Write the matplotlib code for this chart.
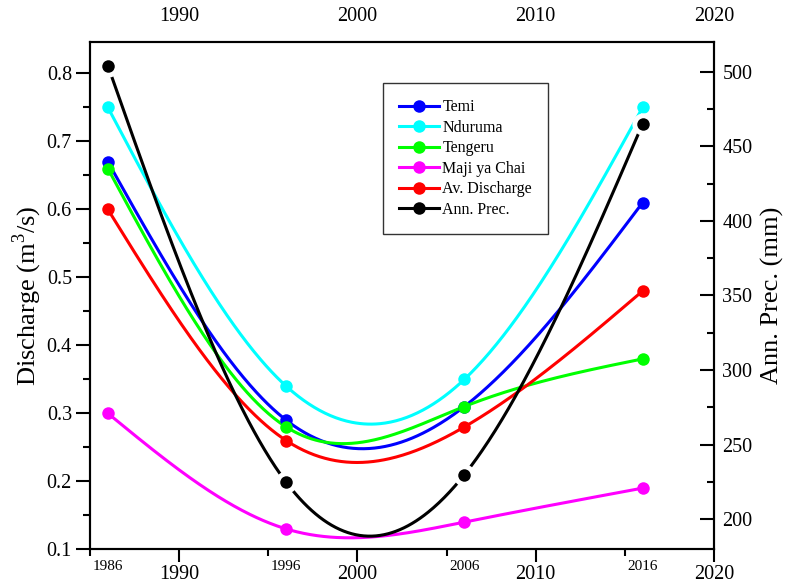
import numpy as np
import matplotlib
matplotlib.use("Agg")
import matplotlib.pyplot as plt
from matplotlib.ticker import MultipleLocator, FixedLocator
from matplotlib.lines import Line2D

years = [1986, 1996, 2006, 2016]
temi = [0.67, 0.29, 0.31, 0.61]
nduruma = [0.75, 0.34, 0.35, 0.75]
tengeru = [0.66, 0.28, 0.31, 0.38]
maji_ya_chai = [0.30, 0.13, 0.14, 0.19]
av_discharge = [0.60, 0.26, 0.28, 0.48]
ann_prec = [504, 225, 230, 465]

series_names = ["Temi", "Nduruma", "Tengeru", "Maji ya Chai", "Av. Discharge"]
series_colors = ["#0000ff", "#00ffff", "#00ff00", "#ff00ff", "#ff0000"]


def natural_spline(x, y, xs):
    x = np.asarray(x, float)
    y = np.asarray(y, float)
    n = len(x)
    h = np.diff(x)
    A = np.zeros((n, n))
    b = np.zeros(n)
    A[0, 0] = 1
    A[-1, -1] = 1
    for i in range(1, n - 1):
        A[i, i - 1] = h[i - 1]
        A[i, i] = 2 * (h[i - 1] + h[i])
        A[i, i + 1] = h[i]
        b[i] = 6 * ((y[i + 1] - y[i]) / h[i] - (y[i] - y[i - 1]) / h[i - 1])
    M = np.linalg.solve(A, b)
    xs = np.asarray(xs, float)
    idx = np.clip(np.searchsorted(x, xs) - 1, 0, n - 2)
    x0, x1 = x[idx], x[idx + 1]
    hh = x1 - x0
    t0 = x1 - xs
    t1 = xs - x0
    return (M[idx] * t0 ** 3 / (6 * hh) + M[idx + 1] * t1 ** 3 / (6 * hh)
            + (y[idx] / hh - M[idx] * hh / 6) * t0
            + (y[idx + 1] / hh - M[idx + 1] * hh / 6) * t1)


plt.rcParams['font.family'] = ['Liberation Serif', 'DejaVu Serif']
plt.rcParams['mathtext.fontset'] = 'custom'
plt.rcParams['mathtext.rm'] = 'Liberation Serif'

fig = plt.figure(figsize=(7.88, 5.83), dpi=100)
ax = fig.add_axes([0.1142, 0.0578, 0.9061 - 0.1142, 0.9285 - 0.0578])
ax2 = ax.twinx()

xs = np.linspace(years[0], years[-1], 400)
lw = 2.2
ms = 9
data_sets = [temi, nduruma, tengeru, maji_ya_chai, av_discharge]
handles = []
for name, col, vals in zip(series_names, series_colors, data_sets):
    ax.plot(xs, natural_spline(years, vals, xs), color=col, lw=lw, zorder=2)
    ax.plot(years, vals, 'o', color=col, ms=ms, mew=0, zorder=3)
    handles.append(Line2D([], [], color=col, lw=lw, marker='o', ms=ms, mew=0, label=name))

ax2.plot(xs, natural_spline(years, ann_prec, xs), color='black', lw=lw, zorder=2)
ax2.plot(years, ann_prec, 'o', color='white', ms=ms + 7, mew=0, zorder=3)
ax2.plot(years, ann_prec, 'o', color='black', ms=ms, mew=0, zorder=4)
handles.append(Line2D([], [], color='black', lw=lw, marker='o', ms=ms, mew=0, label='Ann. Prec.'))

ax.set_xlim(1985, 2020)
ax.set_ylim(0.1, 0.8465)
ax2.set_ylim(180, 520)

ax.xaxis.set_major_locator(FixedLocator([1990, 2000, 2010, 2020]))
ax.xaxis.set_minor_locator(FixedLocator([1985, 1995, 2005, 2015]))
ax.yaxis.set_major_locator(MultipleLocator(0.1))
ax.yaxis.set_minor_locator(MultipleLocator(0.05))
ax2.yaxis.set_major_locator(MultipleLocator(50))
ax2.yaxis.set_minor_locator(MultipleLocator(25))
ax.yaxis.set_major_formatter(matplotlib.ticker.FormatStrFormatter('%.1f'))

ax.tick_params(axis='x', which='major', direction='out', length=9, width=1.5,
               labelsize=14.5, pad=2, labeltop=True)
ax.tick_params(axis='x', which='minor', direction='out', length=5, width=1.5)
ax.tick_params(axis='x', which='both', top=False)
ax.tick_params(axis='y', which='major', direction='out', length=10, width=1.5,
               labelsize=14.5, pad=3)
ax.tick_params(axis='y', which='minor', direction='out', length=5, width=1.5)
ax2.tick_params(axis='y', which='major', direction='in', length=10, width=1.5,
                labelsize=14.5, pad=6)
ax2.tick_params(axis='y', which='minor', direction='in', length=5, width=1.5)

for a in (ax, ax2):
    for s in a.spines.values():
        s.set_linewidth(1.5)

trans = matplotlib.transforms.blended_transform_factory(ax.transData, ax.transAxes)
for yv in years:
    ax.text(yv, -0.033, str(yv), transform=trans, ha='center', va='center', fontsize=11)

ax.set_ylabel('Discharge (m$^3$/s)', fontsize=19, labelpad=2)
ax2.set_ylabel('Ann. Prec. (mm)', fontsize=19, labelpad=6)

leg = ax2.legend(handles=handles, loc='upper left', bbox_to_anchor=(0.470, 0.918),
                 fontsize=11.5, frameon=True, fancybox=False, edgecolor='black',
                 handlelength=2.5, handletextpad=0.2, labelspacing=0.28, borderpad=1.0,
                 borderaxespad=0)
leg.get_frame().set_linewidth(1.0)

fig.savefig('out.png', dpi=100, facecolor='white')
